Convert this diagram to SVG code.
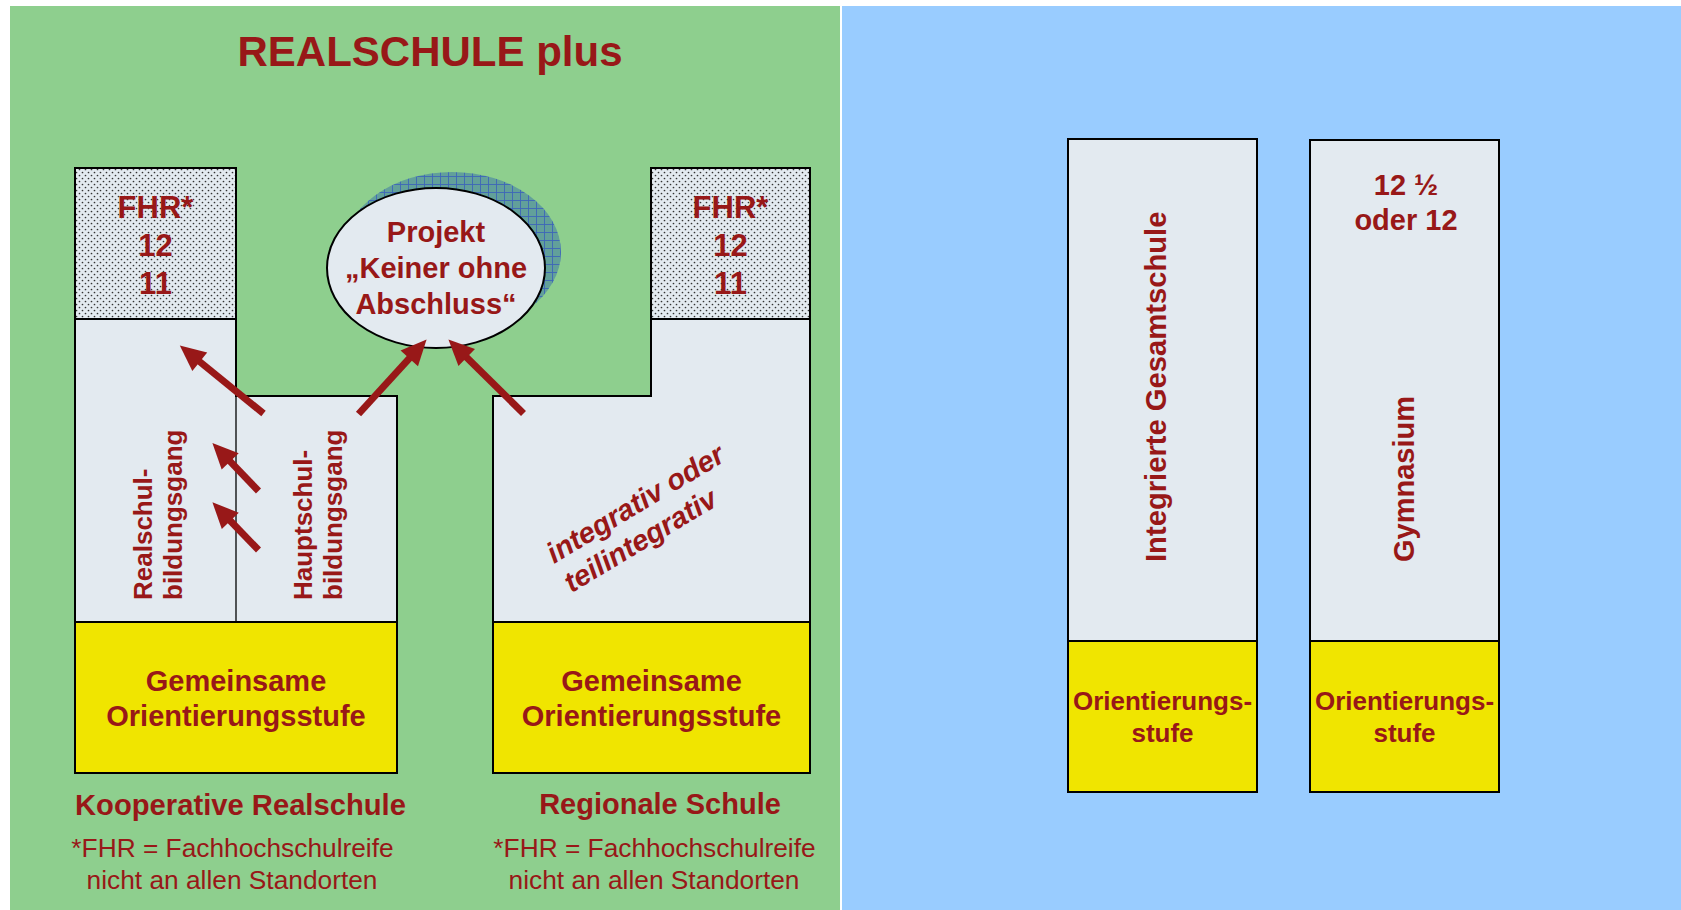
<svg xmlns="http://www.w3.org/2000/svg" width="1681" height="910" viewBox="0 0 1681 910">
<style>
.t{font-family:"Liberation Sans",Arial,sans-serif;fill:#981818;font-weight:bold}
.r{font-family:"Liberation Sans",Arial,sans-serif;fill:#981818;font-weight:normal}
.box{fill:#e3eaf0;stroke:#000;stroke-width:2}
.yel{fill:#f0e500;stroke:#000;stroke-width:2}
.ln{stroke:#000;stroke-width:2;fill:none}
.arr{stroke:#981818;stroke-width:7;fill:none;marker-end:url(#head)}
</style>
<defs>
<pattern id="dots" width="6" height="6" patternUnits="userSpaceOnUse">
<rect width="6" height="6" fill="#e3eaf0"/>
<circle cx="1.5" cy="1.5" r="0.85" fill="#333"/>
<circle cx="4.5" cy="4.5" r="0.85" fill="#333"/>
</pattern>
<pattern id="grid" width="8" height="8" patternUnits="userSpaceOnUse">
<rect width="8" height="8" fill="#62a09a"/>
<path d="M0,0.5H8M0.5,0V8" stroke="#3d67b8" stroke-width="0.9"/>
</pattern>
<marker id="head" markerUnits="userSpaceOnUse" markerWidth="30" markerHeight="30" viewBox="-4 -13 28 26" refX="0" refY="0" orient="auto">
<path d="M-2,-11 L22,0 L-2,11 z" fill="#981818"/>
</marker>
</defs>

<g id="background">
<rect x="0" y="0" width="1681" height="910" fill="#ffffff"/>
<rect x="10" y="6" width="830" height="904" fill="#8ecf8e"/>
<rect x="842" y="6" width="839" height="904" fill="#99ccff"/>
</g>

<g id="title">
<text class="t" x="430" y="66" font-size="42" text-anchor="middle">REALSCHULE plus</text>
</g>

<g id="projekt-shadow">
<ellipse cx="452" cy="252" rx="109" ry="80" fill="url(#grid)"/>
</g>

<g id="kooperative-realschule">
<path class="box" d="M75,168H236V396H397V622H75Z"/>
<rect x="75" y="168" width="161" height="151" fill="url(#dots)" stroke="#000" stroke-width="2"/>
<line x1="236" y1="396" x2="236" y2="622" stroke="#000" stroke-width="1.3"/>
<text class="t" font-size="31" text-anchor="middle"><tspan x="155.5" y="218">FHR*</tspan><tspan x="155.5" y="256">12</tspan><tspan x="155.5" y="294">11</tspan></text>
<text class="t" font-size="26" transform="translate(152,600) rotate(-90)">Realschul-</text>
<text class="t" font-size="26" transform="translate(182,600) rotate(-90)">bildungsgang</text>
<text class="t" font-size="26" transform="translate(312,600) rotate(-90)">Hauptschul-</text>
<text class="t" font-size="26" transform="translate(342,600) rotate(-90)">bildungsgang</text>
<rect class="yel" x="75" y="622" width="322" height="151"/>
<text class="t" font-size="29" text-anchor="middle"><tspan x="236" y="691">Gemeinsame</tspan><tspan x="236" y="726">Orientierungsstufe</tspan></text>
<text class="t" font-size="29.2" x="240.5" y="815" text-anchor="middle">Kooperative Realschule</text>
<text class="r" font-size="26.3" text-anchor="middle"><tspan x="232.5" y="857">*FHR = Fachhochschulreife</tspan><tspan x="232" y="889">nicht an allen Standorten</tspan></text>
</g>

<g id="regionale-schule">
<path class="box" d="M493,396H651V168H810V622H493Z"/>
<rect x="651" y="168" width="159" height="151" fill="url(#dots)" stroke="#000" stroke-width="2"/>
<text class="t" font-size="31" text-anchor="middle"><tspan x="730.5" y="218">FHR*</tspan><tspan x="730.5" y="256">12</tspan><tspan x="730.5" y="294">11</tspan></text>
<g transform="translate(554,564) rotate(-31)">
<text class="t" font-size="29" font-style="italic"><tspan x="0" y="0">integrativ oder</tspan><tspan x="0" y="34">teilintegrativ</tspan></text>
</g>
<rect class="yel" x="493" y="622" width="317" height="151"/>
<text class="t" font-size="29" text-anchor="middle"><tspan x="651.5" y="691">Gemeinsame</tspan><tspan x="651.5" y="726">Orientierungsstufe</tspan></text>
<text class="t" font-size="29" x="660" y="814" text-anchor="middle">Regionale Schule</text>
<text class="r" font-size="26.3" text-anchor="middle"><tspan x="654.5" y="857">*FHR = Fachhochschulreife</tspan><tspan x="654" y="889">nicht an allen Standorten</tspan></text>
</g>

<g id="projekt">
<ellipse cx="436" cy="268" rx="109" ry="80" fill="#e3eaf0" stroke="#000" stroke-width="2"/>
<text class="t" font-size="29" text-anchor="middle"><tspan x="436" y="242">Projekt</tspan><tspan x="436" y="278">„Keiner ohne</tspan><tspan x="436" y="314">Abschluss“</tspan></text>
</g>

<g id="integrierte-gesamtschule">
<rect class="box" x="1068" y="139" width="189" height="502"/>
<text class="t" font-size="29.2" transform="translate(1166,562) rotate(-90)">Integrierte Gesamtschule</text>
<rect class="yel" x="1068" y="641" width="189" height="151"/>
<text class="t" font-size="26" text-anchor="middle"><tspan x="1162.5" y="710">Orientierungs-</tspan><tspan x="1162.5" y="742">stufe</tspan></text>
</g>

<g id="gymnasium">
<rect class="box" x="1310" y="140" width="189" height="501"/>
<text class="t" font-size="29" text-anchor="middle"><tspan x="1406" y="195">12 ½</tspan><tspan x="1406" y="230">oder 12</tspan></text>
<text class="t" font-size="29" transform="translate(1414,562) rotate(-90)">Gymnasium</text>
<rect class="yel" x="1310" y="641" width="189" height="151"/>
<text class="t" font-size="26" text-anchor="middle"><tspan x="1404.5" y="710">Orientierungs-</tspan><tspan x="1404.5" y="742">stufe</tspan></text>
</g>

<g id="connectors">
<line class="arr" x1="263.5" y1="413.5" x2="198.1" y2="360.4"/>
<line class="arr" x1="258.5" y1="491" x2="228.7" y2="459.9"/>
<line class="arr" x1="258.5" y1="550" x2="228.8" y2="519.3"/>
<line class="arr" x1="358.5" y1="414" x2="410.7" y2="356.8"/>
<line class="arr" x1="523.5" y1="413.5" x2="465.2" y2="356"/>
</g>
</svg>
